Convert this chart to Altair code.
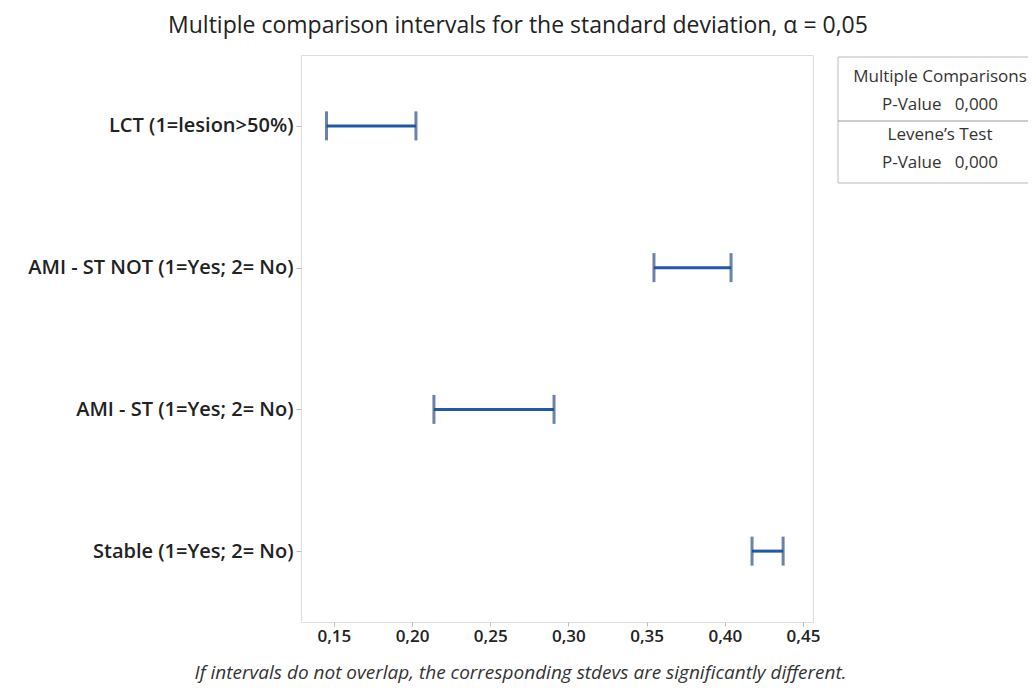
import altair as alt
import pandas as pd

categories = ["LCT (1=lesion>50%)", "AMI - ST NOT (1=Yes; 2= No)",
              "AMI - ST (1=Yes; 2= No)", "Stable (1=Yes; 2= No)"]
lower = [0.1453, 0.3547, 0.2140, 0.4174]
upper = [0.2025, 0.4040, 0.2908, 0.4373]
x_ticks = [0.15, 0.20, 0.25, 0.30, 0.35, 0.40, 0.45]

box_lines = ["Multiple Comparisons", "P-Value\u00a0\u00a0\u00a00,000", "Levene\u2019s Test",
             "P-Value\u00a0\u00a0\u00a00,000"]

df = pd.DataFrame({"cat": categories, "lo": lower, "hi": upper})

FONT = "Open Sans"
BLUE = "#1f5aa8"

xscale = alt.Scale(domain=[0.129, 0.4564], nice=False, zero=False)
yscale = alt.Scale(type="point", padding=0.5, domain=categories)

xaxis = alt.Axis(values=x_ticks, grid=False, domain=False,
                 labelExpr="replace(format(datum.value, '.2f'), '.', ',')",
                 labelFont=FONT, labelFontSize=17, labelFontWeight=600, labelColor="#222",
                 tickColor="#bbb", tickSize=4, labelPadding=2,
                 title="If intervals do not overlap, the corresponding stdevs are significantly different.",
                 titleFont=FONT, titleFontSize=19, titleFontStyle="italic", titleFontWeight="normal",
                 titleColor="#333", titleX=219, titleY=50, titleAlign="center", titleBaseline="middle",
                 titleAnchor="start")
yaxis = alt.Axis(title=None, grid=False, domain=False, labelFont=FONT, labelFontSize=20,
                 labelFontWeight=600, labelColor="#222", tickColor="#bbb", tickSize=5,
                 labelPadding=3, labelLimit=400)

base = alt.Chart(df)
rule = base.mark_rule(color=BLUE, strokeWidth=3).encode(
    x=alt.X("lo:Q", scale=xscale, axis=xaxis),
    x2="hi:Q",
    y=alt.Y("cat:N", scale=yscale, axis=yaxis, sort=categories),
)
tick_lo = base.mark_tick(color="#2b4f86", thickness=3, size=29, orient="vertical").encode(
    x=alt.X("lo:Q", scale=xscale), y=alt.Y("cat:N", scale=yscale, sort=categories))
tick_hi = base.mark_tick(color="#2b4f86", thickness=3, size=29, orient="vertical").encode(
    x=alt.X("hi:Q", scale=xscale), y=alt.Y("cat:N", scale=yscale, sort=categories))

# side info box
box_df = pd.DataFrame({"t": box_lines, "py": [22, 50, 80, 108]})
box_text = alt.Chart(box_df).mark_text(font=FONT, fontSize=17, color="#333", align="center",
                                       baseline="middle").encode(
    text="t:N", x=alt.value(639), y=alt.Y("py:Q", scale=None))
box_rect = alt.Chart(pd.DataFrame({"a": [0]})).mark_rect(fill=None, stroke="#bbb", strokeWidth=1).encode(
    x=alt.value(537), x2=alt.value(745), y=alt.value(2), y2=alt.value(128))
box_div = alt.Chart(pd.DataFrame({"a": [0]})).mark_rule(color="#999", strokeWidth=1).encode(
    x=alt.value(537), x2=alt.value(745), y=alt.value(66))

chart = alt.layer(rule, tick_lo, tick_hi, box_rect, box_div, box_text).properties(
    width=512, height=567,
    title=alt.TitleParams("Multiple comparison intervals for the standard deviation, α = 0,05",
                          font=FONT, fontSize=23, fontWeight=500, color="#222",
                          anchor="middle", dx=-39, offset=17),
    autosize=alt.AutoSizeParams(type="none"),
    padding={"left": 293, "top": 47, "right": 215, "bottom": 66},
).configure_view(stroke="#aaa", strokeWidth=1.5).configure(background="white")

chart.save("out.html", embed_options={"renderer": "svg", "actions": False})
